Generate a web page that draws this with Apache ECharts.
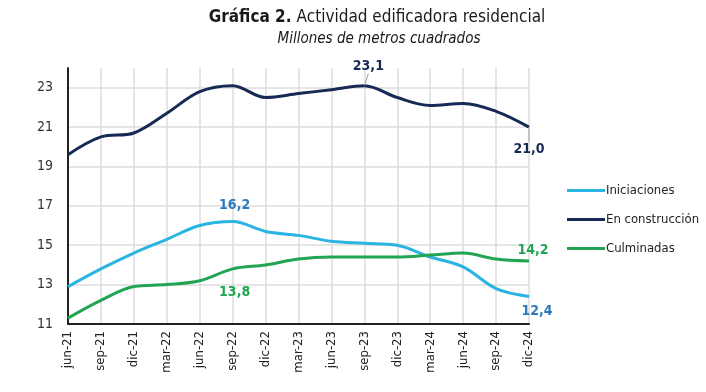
<!DOCTYPE html>
<html>
<head>
<meta charset="utf-8">
<script src="https://cdn.jsdelivr.net/npm/echarts@6/dist/echarts.min.js"></script>
<style>
html,body{margin:0;padding:0;background:#fff;}
#c{width:706px;height:392px;}
</style>
</head>
<body>
<div id="c"></div>
<script>
const categories = ['jun-21','sep-21','dic-21','mar-22','jun-22','sep-22','dic-22','mar-23','jun-23','sep-23','dic-23','mar-24','jun-24','sep-24','dic-24'];
const iniciaciones = [12.9,13.8,14.6,15.3,16.0,16.2,15.7,15.5,15.2,15.1,15.0,14.4,13.9,12.8,12.4];
const enConstruccion = [19.6,20.5,20.7,21.7,22.8,23.1,22.5,22.7,22.9,23.1,22.5,22.1,22.2,21.8,21.0];
const culminadas = [11.3,12.2,12.9,13.0,13.2,13.8,14.0,14.3,14.4,14.4,14.4,14.5,14.6,14.3,14.2];
const yTicks = [11,13,15,17,19,21,23];

const FONT = '"DejaVu Sans Condensed","Liberation Sans Narrow","Roboto",sans-serif';
const C_INI = '#2ab4e2', C_CON = '#172a55', C_CUL = '#21a552';

function withLabels(values, labels) {
  return values.map((v, i) => {
    if (labels[i]) return { value: v, label: Object.assign({ show: true, formatter: p => Number(p.value).toFixed(1).replace('.', ','), fontFamily: FONT, fontWeight: 'bold', fontSize: 14 }, labels[i]) };
    return v;
  });
}

const chart = echarts.init(document.getElementById('c'), null, { renderer: 'canvas' });
chart.setOption({
  animation: false,
  title: [{
    text: '{b|Gráfica 2.} {r|Actividad edificadora residencial}',
    left: 372, top: 4, textAlign: 'center',
    textStyle: { rich: {
      b: { fontFamily: FONT, fontWeight: 'bold', fontSize: 17, color: '#1a1a1a' },
      r: { fontFamily: FONT, fontWeight: 'normal', fontSize: 17, color: '#1a1a1a' }
    } }
  }, {
    text: 'Millones de metros cuadrados',
    left: 374, top: 27, textAlign: 'center',
    textStyle: { fontFamily: FONT, fontStyle: 'italic', fontWeight: 'normal', fontSize: 15, color: '#1a1a1a' }
  }],
  legend: {
    orient: 'vertical', left: 562, top: 179,
    itemWidth: 38, itemHeight: 3, itemGap: 16, icon: 'rect',
    textStyle: { fontFamily: FONT, fontSize: 13, color: '#222', padding: [0,0,0,-4] },
    data: ['Iniciaciones', 'En construcción', 'Culminadas']
  },
  grid: { left: 68, right: 177, top: 68, bottom: 68 },
  xAxis: {
    type: 'category', data: categories, boundaryGap: false,
    axisLine: { lineStyle: { color: '#222', width: 2 } },
    axisTick: { show: false },
    axisLabel: { rotate: 90, color: '#222', fontFamily: FONT, fontSize: 13, margin: 7 },
    splitLine: { show: true, lineStyle: { color: '#dcdcdc', width: 1.5 } }
  },
  yAxis: {
    type: 'value', min: 11, max: 24, interval: 2,
    axisLine: { show: true, lineStyle: { color: '#222', width: 2 } },
    axisTick: { show: false },
    axisLabel: { color: '#333', fontFamily: FONT, fontSize: 14, margin: 15, showMaxLabel: false,
      formatter: v => yTicks.indexOf(v) >= 0 ? String(v) : '' },
    splitLine: { lineStyle: { color: ['#dcdcdc','#dcdcdc','#dcdcdc','#dcdcdc','#dcdcdc','#dcdcdc','#dcdcdc','rgba(0,0,0,0)'], width: 1.5 } }
  },
  series: [{
    name: 'Iniciaciones', type: 'line', smooth: 0.35, showSymbol: true, symbol: 'circle', symbolSize: 0.01,
    lineStyle: { width: 3, color: C_INI }, itemStyle: { color: C_INI },
    data: withLabels(iniciaciones, {5: { position: 'top', distance: 9, offset: [2, 0], color: '#2a78bd' }, 14: { position: 'bottom', distance: 8, offset: [8, 0], color: '#2a78bd' }})
  }, {
    name: 'En construcción', type: 'line', smooth: 0.35, showSymbol: true, symbol: 'circle', symbolSize: 0.01,
    lineStyle: { width: 3, color: C_CON }, itemStyle: { color: C_CON },
    labelLine: { show: true, lineStyle: { color: '#9aa0a8', width: 1 } },
    labelLayout: p => p.dataIndex === 9 ? { dx: 4, dy: -10 } : {},
    data: withLabels(enConstruccion, {9: { position: 'top', distance: 2, color: C_CON }, 14: { position: 'bottom', distance: 15, color: C_CON }})
  }, {
    name: 'Culminadas', type: 'line', smooth: 0.35, showSymbol: true, symbol: 'circle', symbolSize: 0.01,
    lineStyle: { width: 3, color: C_CUL }, itemStyle: { color: C_CUL },
    data: withLabels(culminadas, {5: { position: 'bottom', distance: 16, offset: [2, 0], color: C_CUL }, 14: { position: 'top', distance: 4, offset: [4, 0], color: C_CUL }})
  }]
});
</script>
</body>
</html>
